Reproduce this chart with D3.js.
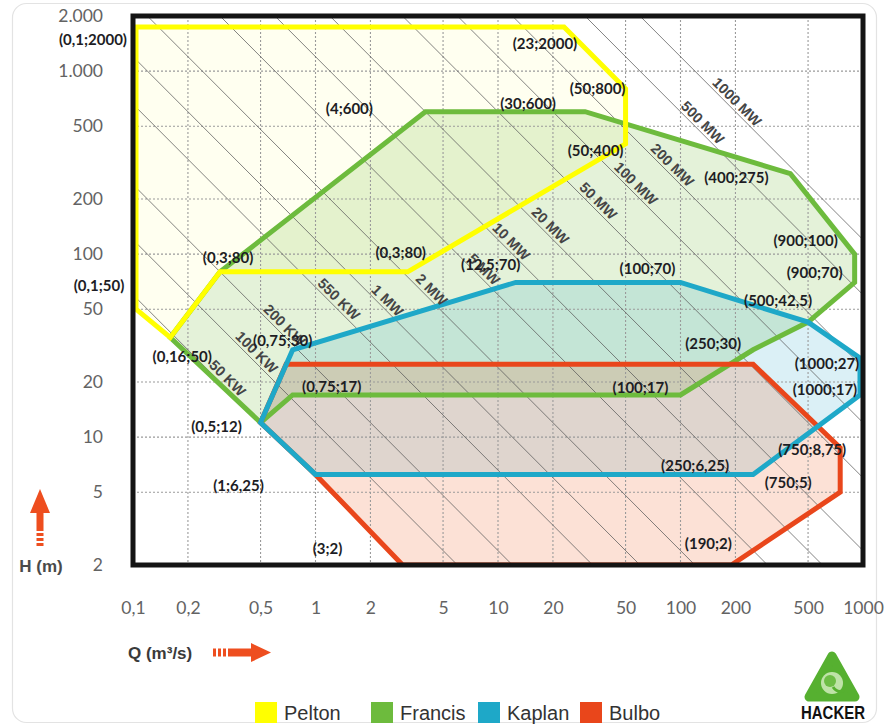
<!DOCTYPE html>
<html>
<head>
<meta charset="utf-8">
<script src="https://cdn.jsdelivr.net/npm/d3@7"></script>
<style>
  html, body { margin: 0; padding: 0; background: #fff; }
  svg { display: block; }
</style>
</head>
<body>
<svg id="chart" width="887" height="726"></svg>
<script>
// ---- Axis ticks -------------------------------------------------------
const qTicks = [0.1, 0.2, 0.5, 1, 2, 5, 10, 20, 50, 100, 200, 500, 1000];
const qTickLabels = ["0,1", "0,2", "0,5", "1", "2", "5", "10", "20", "50", "100", "200", "500", "1000"];
const hTicks = [2, 5, 10, 20, 50, 100, 200, 500, 1000, 2000];
const hTickLabels = ["2", "5", "10", "20", "50", "100", "200", "500", "1.000", "2.000"];

// ---- Turbine application ranges (Q in m³/s, H in m) -------------------
const turbines = ["Pelton", "Francis", "Kaplan", "Bulbo"];
const peltonQ  = [0.1, 23, 50, 50, 3.2, 0.3, 0.16, 0.1];
const peltonH  = [2000, 2000, 800, 400, 80, 80, 35, 50];
const francisQ = [0.16, 0.3, 4, 30, 400, 900, 900, 500, 250, 100, 0.75, 0.5];
const francisH = [35, 80, 600, 600, 275, 100, 70, 42.5, 30, 17, 17, 12];
const kaplanQ  = [0.5, 0.75, 12.5, 100, 500, 1000, 1000, 250, 1];
const kaplanH  = [12, 30, 70, 70, 42.5, 27, 17, 6.25, 6.25];
const bulboQ   = [0.69, 250, 750, 750, 190, 3, 1, 0.5];
const bulboH   = [25, 25, 8.75, 5, 2, 2, 6.25, 12];

// ---- Iso-power lines (kW) ---------------------------------------------
const powerKW     = [50, 100, 200, 550, 1000, 2000, 5000, 10000, 20000, 50000, 100000, 200000, 500000, 1000000];
const powerLabels = ["50 KW", "100 KW", "200 KW", "550 KW", "1 MW", "2 MW", "5 MW", "10 MW", "20 MW", "50 MW", "100 MW", "200 MW", "500 MW", "1000 MW"];
const efficiency = 0.85;

// ---- Vertex annotations -----------------------------------------------
const annoText = ["(0,1;2000)", "(23;2000)", "(50;800)", "(50;400)", "(4;600)", "(30;600)", "(400;275)",
  "(900;100)", "(900;70)", "(500;42,5)", "(1000;27)", "(1000;17)", "(250;30)", "(100;17)", "(750;8,75)",
  "(250;6,25)", "(750;5)", "(190;2)", "(3;2)", "(1;6,25)", "(0,5;12)", "(0,16;50)", "(0,1;50)", "(0,3;80)",
  "(0,3;80)", "(12,5;70)", "(100;70)", "(0,75;17)", "(0,75;30)"];
const annoQ = [0.1, 23, 50, 50, 4, 30, 400, 900, 900, 500, 1000, 1000, 250, 100, 750, 250, 750, 190, 3, 1,
  0.5, 0.16, 0.1, 0.3, 3.2, 12.5, 100, 0.75, 0.75];
const annoH = [2000, 2000, 800, 400, 600, 600, 275, 100, 70, 42.5, 27, 17, 30, 17, 8.75, 6.25, 5, 2, 2, 6.25,
  12, 35, 50, 80, 80, 70, 70, 17, 30];

// ---- Layout -------------------------------------------------------------
const annoOffset = [[-40, 23], [-19, 27], [-28, -1], [-30, 6], [-76, -4], [-57, -9], [-54, 3], [-49, -14],
  [-40, -10], [-30, -22], [-36, 5], [-38, -6], [-40, -7], [-40, -8], [-28, 1], [-58, -9], [-52, -10],
  [-23, -22], [-75, -17], [-77, 11], [-44, 3], [12, 18], [-34, -24], [8, -15], [-7, -20], [-25, -18],
  [-33, -14], [39, -9], [-10, -10]];
const powerLabelQ = [0.307, 0.443, 0.63, 1.25, 2.31, 4.03, 7.8, 11, 18, 33, 53, 84, 123, 190];

const strokeColor = { Pelton: "#ffff00", Francis: "#6dbb3d", Kaplan: "#1ea8c8", Bulbo: "#e9461b" };
const fillStyle = { Pelton: ["#ffff00", 0.06], Francis: ["#78c043", 0.2], Kaplan: ["#20a4c6", 0.16], Bulbo: ["#f26b32", 0.2] };

const svg = d3.select("#chart");

const x = d3.scaleLog().domain([0.1, 1000]).range([133, 863]);
const y = d3.scaleLog().domain([2, 2000]).range([565, 16]);
const plotLeft = x(0.1), plotRight = x(1000), plotTop = y(2000), plotBottom = y(2);

// card behind the chart
svg.append("rect")
  .attr("x", 12.5).attr("y", 3.5).attr("width", 864).attr("height", 719).attr("rx", 14)
  .attr("fill", "#fff").attr("stroke", "#e3e3e3").attr("stroke-width", 1.2);

svg.append("defs").append("clipPath").attr("id", "plotClip")
  .append("rect").attr("x", plotLeft).attr("y", plotTop)
  .attr("width", plotRight - plotLeft).attr("height", plotBottom - plotTop);

const plot = svg.append("g").attr("clip-path", "url(#plotClip)");

const shapes = {
  Pelton: d3.zip(peltonQ, peltonH),
  Francis: d3.zip(francisQ, francisH),
  Kaplan: d3.zip(kaplanQ, kaplanH),
  Bulbo: d3.zip(bulboQ, bulboH)
};

// edges that sit on the frame are pulled inside so the outline stays visible
const toPixel = ([q, h]) => [
  Math.min(Math.max(x(q), plotLeft + 3), plotRight - 3),
  Math.min(Math.max(y(h), plotTop + 11), plotBottom)
];
const outline = pts => d3.line()(pts.map(toPixel)) + "Z";

// area fills
turbines.forEach(t => {
  plot.append("path")
    .attr("d", outline(shapes[t]))
    .attr("fill", fillStyle[t][0])
    .attr("fill-opacity", fillStyle[t][1]);
});

// dotted grid
plot.append("g").selectAll("line").data(qTicks.slice(1, -1)).join("line")
  .attr("x1", d => x(d)).attr("x2", d => x(d)).attr("y1", plotTop).attr("y2", plotBottom)
  .attr("stroke", "#9a9a9a").attr("stroke-width", 1.1).attr("stroke-dasharray", "2,2");
plot.append("g").selectAll("line").data(hTicks.slice(1, -1)).join("line")
  .attr("y1", d => y(d)).attr("y2", d => y(d)).attr("x1", plotLeft).attr("x2", plotRight)
  .attr("stroke", "#9a9a9a").attr("stroke-width", 1.1).attr("stroke-dasharray", "2,2");

// iso-power lines: P = 9.81 · η · Q · H
const qh = p => p / (9.81 * efficiency);
plot.append("g").selectAll("line").data(powerKW).join("line")
  .attr("x1", p => x(Math.max(0.1, qh(p) / 2000)))
  .attr("y1", p => y(qh(p) / Math.max(0.1, qh(p) / 2000)))
  .attr("x2", p => x(Math.min(1000, qh(p) / 2)))
  .attr("y2", p => y(qh(p) / Math.min(1000, qh(p) / 2)))
  .attr("stroke", "#5a5a5a").attr("stroke-width", 1).attr("stroke-opacity", 0.75);

// outlines
["Francis", "Bulbo", "Kaplan", "Pelton"].forEach(t => {
  plot.append("path")
    .attr("d", outline(shapes[t]))
    .attr("fill", "none")
    .attr("stroke", strokeColor[t])
    .attr("stroke-width", 5)
    .attr("stroke-linejoin", "miter");
});

// power line labels
svg.append("g").selectAll("text").data(powerKW).join("text")
  .attr("transform", (p, i) => {
    const q = powerLabelQ[i];
    return `translate(${x(q)},${y(qh(p) / q)}) rotate(45)`;
  })
  .attr("y", -3)
  .attr("text-anchor", "middle")
  .attr("font-family", "'Liberation Sans', Arial, sans-serif")
  .attr("font-weight", "bold")
  .attr("font-size", 14.5)
  .attr("fill", "#454545")
  .text((p, i) => powerLabels[i]);

// frame
svg.append("rect")
  .attr("x", plotLeft).attr("y", plotTop)
  .attr("width", plotRight - plotLeft).attr("height", plotBottom - plotTop)
  .attr("fill", "none").attr("stroke", "#141414").attr("stroke-width", 5);

// axes
const yAxis = d3.axisLeft(y).tickValues(hTicks).tickFormat((d, i) => hTickLabels[i]).tickSize(0).tickPadding(30);
const xAxis = d3.axisBottom(x).tickValues(qTicks).tickFormat((d, i) => qTickLabels[i]).tickSize(0).tickPadding(37);
const gy = svg.append("g").attr("transform", `translate(${plotLeft},0)`).call(yAxis);
const gx = svg.append("g").attr("transform", `translate(0,${plotBottom})`).call(xAxis);
[gx, gy].forEach(g => {
  g.select(".domain").remove();
  g.selectAll("text").attr("font-family", "Lato, 'Open Sans', sans-serif").attr("font-size", 17.5).attr("fill", "#636363");
});

// vertex annotations
svg.append("g").selectAll("text").data(annoText).join("text")
  .attr("x", (d, i) => x(annoQ[i]) + annoOffset[i][0])
  .attr("y", (d, i) => y(annoH[i]) + annoOffset[i][1])
  .attr("text-anchor", "middle")
  .attr("dominant-baseline", "central")
  .attr("font-family", "Lato, 'Open Sans', sans-serif")
  .attr("font-weight", "bold")
  .attr("font-size", 15)
  .attr("fill", "#1d1d24")
  .text(d => d);

// axis titles with arrows
const arrowColor = "#ee4e1f";
svg.append("text").attr("x", 41).attr("y", 566).attr("text-anchor", "middle").attr("dominant-baseline", "central")
  .attr("font-family", "'Liberation Sans', Arial, sans-serif").attr("font-weight", "bold").attr("font-size", 17)
  .attr("fill", "#4a4a4a").text("H (m)");
const upArrow = svg.append("g").attr("fill", arrowColor);
upArrow.append("path").attr("d", "M40,489 L50,513 L30,513 Z");
upArrow.append("rect").attr("x", 36.5).attr("y", 512).attr("width", 7).attr("height", 19);
[533, 538, 543].forEach(v => upArrow.append("rect").attr("x", 36.5).attr("y", v).attr("width", 7).attr("height", 3));

svg.append("text").attr("x", 128).attr("y", 653).attr("dominant-baseline", "central")
  .attr("font-family", "'Liberation Sans', Arial, sans-serif").attr("font-weight", "bold").attr("font-size", 17)
  .attr("fill", "#3a3a3a").text("Q (m³/s)");
const rightArrow = svg.append("g").attr("fill", arrowColor);
[213, 218, 223].forEach(v => rightArrow.append("rect").attr("x", v).attr("y", 648.5).attr("width", 3).attr("height", 8));
rightArrow.append("rect").attr("x", 228).attr("y", 648.5).attr("width", 24).attr("height", 8);
rightArrow.append("path").attr("d", "M251,643 L271,652.5 L251,662 Z");

// legend
const legendX = [255, 371, 478, 580];
const legend = svg.append("g").selectAll("g").data(turbines).join("g")
  .attr("transform", (d, i) => `translate(${legendX[i]},702)`);
legend.append("rect").attr("width", 22).attr("height", 21).attr("fill", d => strokeColor[d]);
legend.append("text").attr("x", 29).attr("y", 11).attr("dominant-baseline", "central")
  .attr("font-family", "'Liberation Sans', Arial, sans-serif").attr("font-size", 20).attr("fill", "#333")
  .text(d => d);

// maker logo
const logo = svg.append("g");
logo.append("path").attr("d", "M832,656 L809,697 L855,697 Z")
  .attr("fill", "#56b030").attr("stroke", "#56b030").attr("stroke-width", 9).attr("stroke-linejoin", "round");
logo.append("circle").attr("cx", 832).attr("cy", 683).attr("r", 11).attr("fill", "#bfe3a8");
logo.append("circle").attr("cx", 830).attr("cy", 681).attr("r", 6).attr("fill", "#6dbd45");
logo.append("path").attr("d", "M833,687 Q838,694 844,690").attr("fill", "none").attr("stroke", "#56b030").attr("stroke-width", 3);
logo.append("text").attr("x", 833).attr("y", 719).attr("text-anchor", "middle")
  .attr("font-family", "'Liberation Sans Narrow', 'Liberation Sans', Arial, sans-serif").attr("font-weight", "bold")
  .attr("font-size", 19).attr("textLength", 64).attr("lengthAdjust", "spacingAndGlyphs")
  .attr("fill", "#111").text("HACKER");
</script>
</body>
</html>
